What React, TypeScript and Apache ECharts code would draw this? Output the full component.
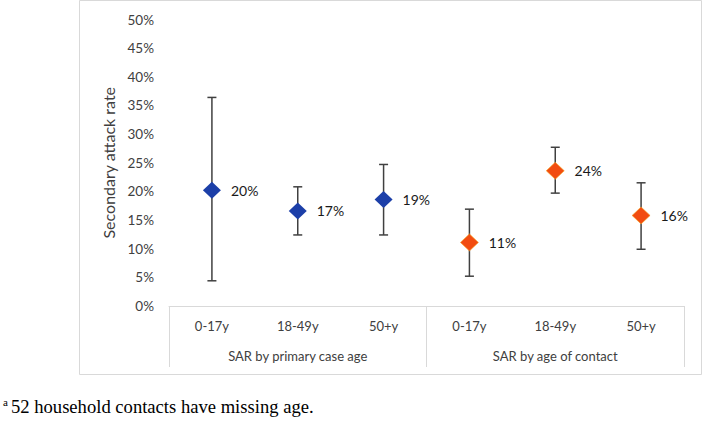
import React, { useEffect, useRef } from "react";
import * as echarts from "echarts";

const categories = ["0-17y", "18-49y", "50+y", "0-17y", "18-49y", "50+y"];
const groups = ["SAR by primary case age", "SAR by age of contact"];
const primaryValues = [20.2, 16.6, 18.6, null, null, null];
const contactValues = [null, null, null, 11.1, 23.6, 15.8];
const lowerCI = [4.4, 12.4, 12.4, 5.2, 19.7, 9.9];
const upperCI = [36.4, 20.8, 24.7, 16.9, 27.7, 21.5];
const yTicks = { min: 0, max: 50, interval: 5 };
const footnote = "52 household contacts have missing age.";

const FONT = "Lato, 'Open Sans', sans-serif";

export default function App() {
  const ref = useRef<HTMLDivElement>(null);
  useEffect(() => {
    const chart = echarts.init(ref.current!, null, { renderer: "svg" });
    const errData = categories.map((_, i) => [i, lowerCI[i], upperCI[i]]);
    const labelCfg = {
      show: true,
      position: "right",
      distance: 10,
      fontFamily: FONT,
      fontSize: 14,
      color: "#1a1a1a",
      formatter: (p: any) => Math.round(p.value) + "%",
    };
    chart.setOption({
      animation: false,
      grid: { left: 169, right: 20, top: 19.5, bottom: 119 },
      xAxis: [
        {
          type: "category",
          data: categories,
          axisLine: { show: true, lineStyle: { color: "#d9d9d9", width: 1 } },
          axisTick: { show: false },
          axisLabel: { margin: 13, fontFamily: FONT, fontSize: 13, color: "#404040" },
        },
        {
          type: "category",
          data: groups,
          position: "bottom",
          axisLine: { show: false },
          axisTick: { show: true, length: 61, lineStyle: { color: "#d9d9d9", width: 1 } },
          axisLabel: { margin: 43, fontFamily: FONT, fontSize: 13, color: "#404040" },
        },
      ],
      yAxis: {
        type: "value",
        min: yTicks.min,
        max: yTicks.max,
        interval: yTicks.interval,
        axisLine: { show: false },
        axisTick: { show: false },
        splitLine: { show: false },
        axisLabel: {
          formatter: "{value}%",
          margin: 15,
          fontFamily: FONT,
          fontSize: 13.5,
          color: "#404040",
        },
        name: "Secondary attack rate",
        nameLocation: "middle",
        nameGap: 52,
        nameTextStyle: { fontFamily: FONT, fontSize: 16, color: "#404040" },
      },
      graphic: [
        {
          type: "rect",
          shape: { x: 79.5, y: 0.5, width: 622, height: 374 },
          style: { fill: "none", stroke: "#d9d9d9", lineWidth: 1 },
          silent: true,
          z: -10,
        },
        {
          type: "text",
          x: 3,
          y: 396,
          style: { text: "a", font: "11px 'Liberation Serif', serif", fill: "#000" },
        },
        {
          type: "text",
          x: 11,
          y: 397,
          style: { text: footnote, font: "18.6px 'Liberation Serif', serif", fill: "#000" },
        },
      ],
      series: [
        {
          type: "custom",
          xAxisIndex: 0,
          data: errData,
          z: 1,
          renderItem: (params: any, api: any) => {
            const x = api.value(0);
            const lo = api.coord([x, api.value(1)]);
            const hi = api.coord([x, api.value(2)]);
            const cap = 4.5;
            const st = { stroke: "#404040", lineWidth: 1.5 };
            return {
              type: "group",
              children: [
                { type: "line", shape: { x1: lo[0], y1: lo[1], x2: hi[0], y2: hi[1] }, style: st },
                { type: "line", shape: { x1: lo[0] - cap, y1: lo[1], x2: lo[0] + cap, y2: lo[1] }, style: st },
                { type: "line", shape: { x1: hi[0] - cap, y1: hi[1], x2: hi[0] + cap, y2: hi[1] }, style: st },
              ],
            };
          },
        },
        {
          type: "scatter",
          xAxisIndex: 0,
          data: primaryValues,
          symbol: "diamond",
          symbolSize: [18, 17],
          itemStyle: { color: "#1C3FA8", opacity: 1 },
          label: labelCfg,
          z: 5,
        },
        {
          type: "scatter",
          xAxisIndex: 0,
          data: contactValues,
          symbol: "diamond",
          symbolSize: [18, 17],
          itemStyle: { color: "#F24C10", borderColor: "#F5A623", borderWidth: 0.6, opacity: 1 },
          label: labelCfg,
          z: 5,
        },
      ],
    });
    return () => chart.dispose();
  }, []);
  return (
    <div
      ref={ref}
      style={{ position: "absolute", left: 0, top: 0, width: 704, height: 425, background: "#fff" }}
    />
  );
}
